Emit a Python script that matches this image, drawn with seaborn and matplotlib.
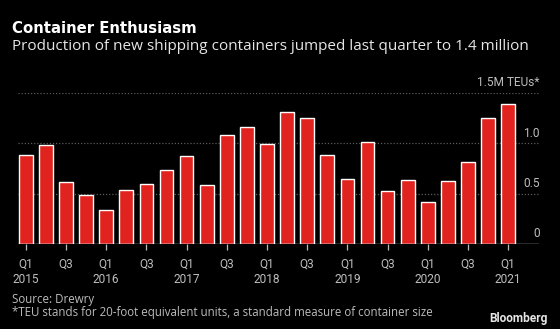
import matplotlib
matplotlib.use("Agg")
import matplotlib.pyplot as plt
import seaborn as sns
import pandas as pd

# ---- data ----
quarters = [f"{y} Q{q}" for y in range(2015, 2022) for q in range(1, 5)][:25]
values = [0.88, 0.98, 0.62, 0.49,
          0.34, 0.54, 0.60, 0.74,
          0.87, 0.59, 1.08, 1.16,
          0.99, 1.31, 1.25, 0.88,
          0.65, 1.01, 0.53, 0.64,
          0.42, 0.63, 0.81, 1.25,
          1.39]
xtick_labels = ["Q1\n2015", "Q3", "Q1\n2016", "Q3", "Q1\n2017", "Q3", "Q1\n2018",
                "Q3", "Q1\n2019", "Q3", "Q1\n2020", "Q3", "Q1\n2021"]
ytick_values = [0, 0.5, 1.0, 1.5]
ytick_labels = ["0", "0.5", "1.0", "1.5M TEUs*"]
title = "Container Enthusiasm"
subtitle = "Production of new shipping containers jumped last quarter to 1.4 million"
source = "Source: Drewry"
footnote = "*TEU stands for 20-foot equivalent units, a standard measure of container size"

df = pd.DataFrame({"quarter": quarters, "teu": values})

sns.set_style("dark")
FONT = ["Roboto", "DejaVu Sans"]
plt.rcParams["font.family"] = FONT
OPEN = ["Open Sans", "DejaVu Sans"]

W, H = 560, 329
fig = plt.figure(figsize=(W / 100, H / 100), dpi=100, facecolor="black")
ax = fig.add_axes([18 / W, 1 - 244 / H, (539 - 18) / W, (244 - 93) / H])
ax.set_facecolor("black")

sns.barplot(data=df, x="quarter", y="teu", order=quarters, color="#e0231f",
            saturation=1, width=0.68, ax=ax, zorder=3)

ax.set_xlim(-0.388, 25.53)
ax.set_ylim(0, 1.5)

for s in ax.spines.values():
    s.set_visible(False)

# gridlines
for v in ytick_values[1:]:
    ax.axhline(v, color="#5a5a5a", lw=0.9, ls=(0, (1, 1.5)), zorder=1)
ax.axhline(0, color="#c9d1d9", lw=1.0, zorder=4)

ax.set_xlabel("")
ax.set_ylabel("")
ax.set_xticks(list(range(0, 25, 2)))
ax.set_xticklabels(xtick_labels, linespacing=1.25)
ax.tick_params(axis="x", colors="#bdbdbd", length=4, width=0.9, pad=6,
               labelsize=8.6, direction="out", bottom=True)
ax.set_yticks([])

for v, lab in zip(ytick_values, ytick_labels):
    ax.annotate(lab, xy=(1.0, v), xycoords=("axes fraction", "data"),
                xytext=(0.5, 4.8), textcoords="offset points",
                ha="right", va="baseline", color="#bdbdbd", fontsize=8.6)

fig.text(12.5 / W, 1 - 32.7 / H, title, color="white", fontsize=10.7,
         fontweight="bold", va="baseline", ha="left", family=["DejaVu Sans"])
fig.text(12.5 / W, 1 - 49.5 / H, subtitle, color="#e6e6e6", fontsize=11.0,
         va="baseline", ha="left", family=OPEN)
fig.text(12.5 / W, 1 - 303.3 / H, source, color="#bdbdbd", fontsize=8.3,
         va="baseline", ha="left", family=OPEN)
fig.text(12.5 / W, 1 - 315.7 / H, footnote, color="#bdbdbd", fontsize=8.3,
         va="baseline", ha="left", family=OPEN)
fig.text(547.5 / W, 1 - 321.7 / H, "Bloomberg", color="#e6e6e6", fontsize=8.6,
         fontweight="bold", va="baseline", ha="right")

fig.savefig("out.png", dpi=100, facecolor="black")
